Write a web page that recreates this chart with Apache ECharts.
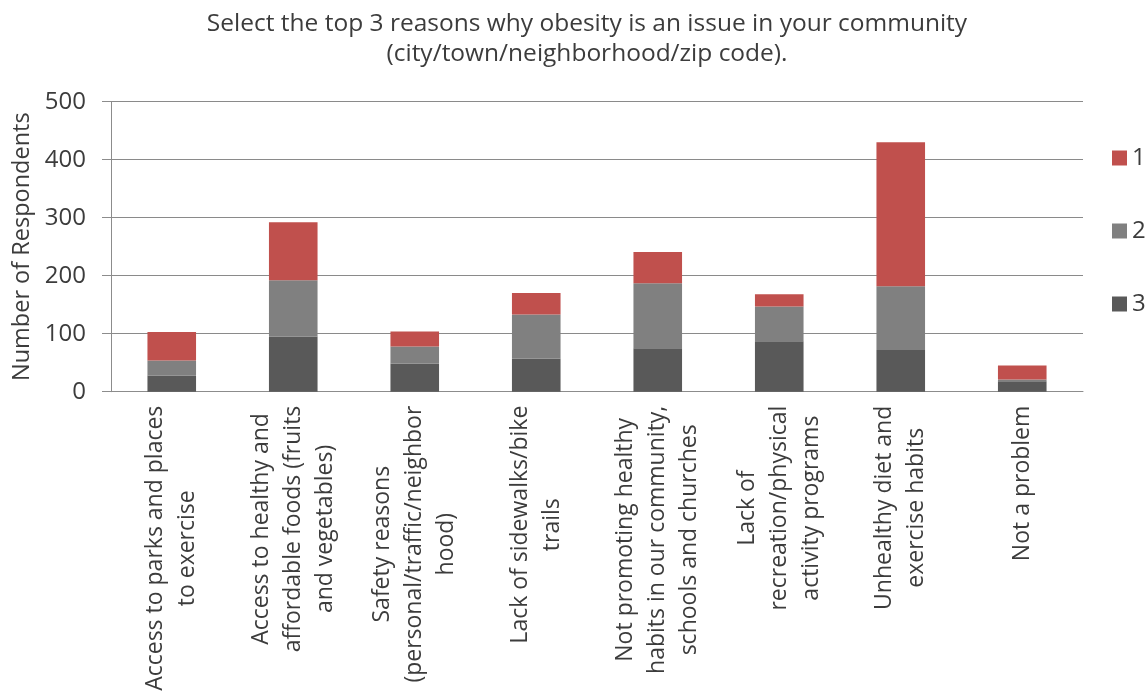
<!DOCTYPE html>
<html>
<head>
<meta charset="utf-8">
<script src="https://cdn.jsdelivr.net/npm/echarts@6/dist/echarts.min.js"></script>
<style>
  html, body { margin: 0; padding: 0; background: #fff; }
  #chart { width: 1148px; height: 696px; }
</style>
</head>
<body>
<div id="chart"></div>
<script>
// Survey reasons (category axis, wrapped as in the printed chart)
const categories = [
  "Access to parks and places\nto exercise",
  "Access to healthy and\naffordable foods (fruits\nand vegetables)",
  "Safety reasons\n(personal/traffic/neighbor\nhood)",
  "Lack of sidewalks/bike\ntrails",
  "Not promoting healthy\nhabits in our community,\nschools and churches",
  "Lack of\nrecreation/physical\nactivity programs",
  "Unhealthy diet and\nexercise habits",
  "Not a problem"
];

// Respondents choosing the reason as their 1st, 2nd and 3rd pick
const rank1 = [49, 100, 26, 37, 54, 21, 248, 24];
const rank2 = [26, 97, 30, 76, 112, 60, 110, 3];
const rank3 = [28, 95, 48, 57, 75, 87, 72, 18];

const yTicks = { min: 0, max: 500, interval: 100 };

const FONT = '"Open Sans", "DejaVu Sans", sans-serif';
const TEXT = '#3c3c3c';

const chart = echarts.init(document.getElementById('chart'), null, { renderer: 'canvas' });

// each wrapped line centred within its label block
function centredLines(v) {
  return v.split('\n').map(function (s) { return '{c|' + s + '}'; }).join('\n');
}

function barSeries(name, data, color) {
  return {
    name: name,
    type: 'bar',
    stack: 'rank',
    data: data,
    barWidth: '40%',
    itemStyle: { color: color },
    emphasis: { disabled: true }
  };
}

chart.setOption({
  animation: false,
  backgroundColor: '#ffffff',
  textStyle: { fontFamily: FONT, color: TEXT },
  title: {
    text: 'Select the top 3 reasons why obesity is an issue in your community\n(city/town/neighborhood/zip code).',
    left: 587,
    top: 9,
    padding: 0,
    textAlign: 'center',
    textStyle: {
      fontFamily: FONT,
      fontSize: 24.5,
      fontWeight: 'normal',
      color: TEXT,
      lineHeight: 30
    }
  },
  legend: {
    orient: 'vertical',
    left: 1112,
    top: 146,
    padding: 0,
    itemWidth: 15,
    itemHeight: 15,
    itemGap: 49,
    icon: 'rect',
    data: ['1', '2', '3'],
    textStyle: { fontFamily: FONT, fontSize: 24, color: TEXT, lineHeight: 24 }
  },
  grid: {
    left: 111,
    right: 65,
    top: 101.7,
    bottom: 304.3,
    containLabel: false
  },
  xAxis: {
    type: 'category',
    data: categories,
    axisLine: { show: true, lineStyle: { color: '#8c8c8c', width: 1 } },
    axisTick: { show: false },
    axisLabel: {
      interval: 0,
      rotate: 90,
      margin: 14,
      fontFamily: FONT,
      fontSize: 23,
      color: TEXT,
      lineHeight: 32,
      formatter: centredLines,
      rich: {
        c: { align: 'center', fontFamily: FONT, fontSize: 23, color: TEXT, lineHeight: 32 }
      }
    },
    splitLine: { show: false }
  },
  yAxis: {
    type: 'value',
    min: yTicks.min,
    max: yTicks.max,
    interval: yTicks.interval,
    name: 'Number of Respondents',
    nameLocation: 'middle',
    nameGap: 75,
    nameTextStyle: { fontFamily: FONT, fontSize: 23.5, color: TEXT },
    axisLine: { show: true, lineStyle: { color: '#8c8c8c', width: 1 } },
    axisTick: { show: true, length: 9, lineStyle: { color: '#8c8c8c' } },
    axisLabel: { margin: 25, fontFamily: FONT, fontSize: 24, color: TEXT },
    splitLine: { show: true, lineStyle: { color: '#8a8a8a', width: 1 } }
  },
  series: [
    barSeries('3', rank3, '#595959'),
    barSeries('2', rank2, '#808080'),
    barSeries('1', rank1, '#C0504D')
  ]
});
</script>
</body>
</html>
